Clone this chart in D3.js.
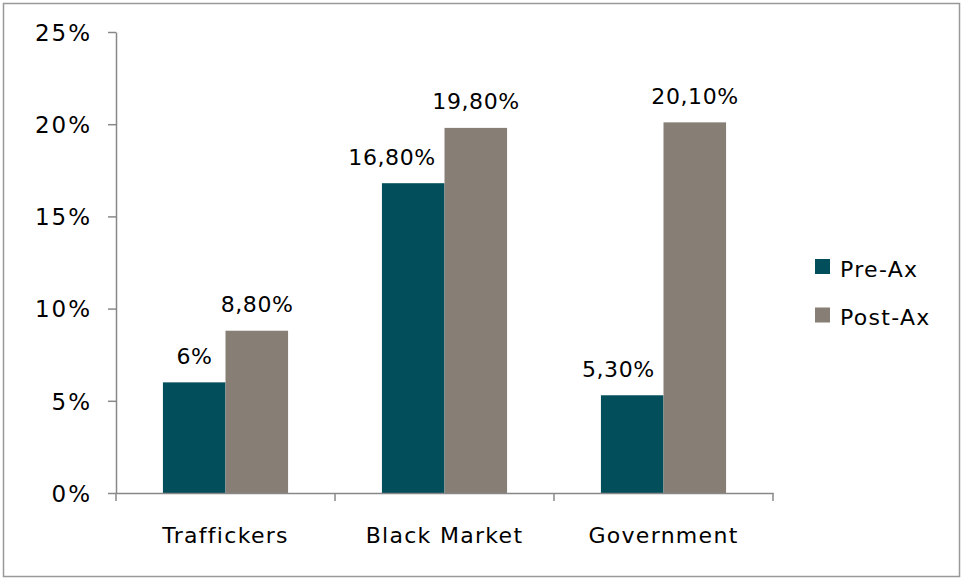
<!DOCTYPE html>
<html><head><meta charset="utf-8">
<script src="https://cdn.jsdelivr.net/npm/d3@7"></script>
<style>html,body{margin:0;padding:0;background:#fff}svg{display:block}text{font-family:"DejaVu Sans",sans-serif;fill:#000}</style>
</head><body>
<svg id="c" width="961" height="579"></svg>
<script>
const categories = ["Traffickers", "Black Market", "Government"];
const seriesNames = ["Pre-Ax", "Post-Ax"];
const preAx = [6, 16.8, 5.3];
const postAx = [8.8, 19.8, 20.1];
const preLabels = ["6%", "16,80%", "5,30%"];
const postLabels = ["8,80%", "19,80%", "20,10%"];
const yTicks = [0, 5, 10, 15, 20, 25];
const colors = ["#024e5a", "#877f75"];

const svg = d3.select("#c");
svg.append("rect").attr("x", 3.5).attr("y", 3.5).attr("width", 956).attr("height", 573)
  .attr("fill", "#fff").attr("stroke", "#999").attr("stroke-width", 1.5);

const x0 = 116, x1 = 773, yTop = 32, yBot = 493;
const x = d3.scaleBand().domain(categories).range([x0, x1]).paddingInner(0).paddingOuter(0);
const y = d3.scaleLinear().domain([0, 25]).range([yBot, yTop]);
const inner = d3.scaleBand().domain(seriesNames).range([0, x.bandwidth()]).paddingInner(0).paddingOuter(0.75);

const g = svg.append("g");
// y axis
const yAxis = g.append("g").attr("transform", `translate(${x0},0)`)
  .call(d3.axisLeft(y).tickValues(yTicks).tickFormat(d => d + "%").tickSize(8).tickSizeOuter(0));
yAxis.select(".domain").attr("stroke", "#888").attr("stroke-width", 1.5);
yAxis.selectAll(".tick line").attr("stroke", "#888").attr("stroke-width", 1.5);
yAxis.selectAll(".tick text").attr("x", -24).attr("dy", "0.36em")
  .style("font-size", "23px").style("letter-spacing", "2px").attr("fill", "#000");

const series = [preAx, postAx];
const labels = [preLabels, postLabels];
series.forEach((vals, si) => {
  g.selectAll(null).data(categories).enter().append("rect")
    .attr("x", (d) => x(d) + inner(seriesNames[si]))
    .attr("width", inner.bandwidth())
    .attr("y", (d, i) => y(vals[i]))
    .attr("height", (d, i) => yBot - y(vals[i]))
    .attr("fill", colors[si]);
});
series.forEach((vals, si) => {
  g.selectAll(null).data(categories).enter().append("text")
    .attr("y", (d, i) => y(vals[i]) - 18.5)
    .attr("text-anchor", "middle")
    .style("font-size", "22px").style("letter-spacing", "0.6px")
    .text((d, i) => labels[si][i])
    .each(function (d, i) {
      let cx = x(d) + inner(seriesNames[si]) + inner.bandwidth() / 2;
      if (si === 0) {
        const w = this.getComputedTextLength();
        const nextX = x(d) + inner(seriesNames[1]);
        const textBase = y(vals[i]) - 18.5;
        if (y(postAx[i]) < textBase && cx + w / 2 > nextX - 8) {
          cx = nextX - 9 - w / 2;
        }
      }
      d3.select(this).attr("x", cx + 0.3);
    });
});

// x axis
const xAxis = g.append("g").attr("transform", `translate(0,${yBot})`)
  .call(d3.axisBottom(x).tickSize(0).tickSizeOuter(0));
xAxis.select(".domain").attr("stroke", "#888").attr("stroke-width", 1.5);
xAxis.selectAll(".tick text").attr("y", 50).attr("dy", "0")
  .style("font-size", "22px").style("letter-spacing", "1.3px").attr("fill", "#000");
const bounds = [x0].concat(categories.map(c => x(c) + x.bandwidth()));
g.selectAll(null).data(bounds).enter().append("line")
  .attr("x1", d => d).attr("x2", d => d).attr("y1", yBot).attr("y2", yBot + 8)
  .attr("stroke", "#888").attr("stroke-width", 1.5);

// legend
const leg = svg.append("g").attr("transform", "translate(815,259)");
seriesNames.forEach((s, i) => {
  leg.append("rect").attr("x", 0).attr("y", i * 48.5).attr("width", 15).attr("height", 15).attr("fill", colors[i]);
  leg.append("text").attr("x", 25).attr("y", i * 48.5 + 17.5)
    .style("font-size", "22px").style("letter-spacing", "1.3px").text(s);
});
</script>
</body></html>
